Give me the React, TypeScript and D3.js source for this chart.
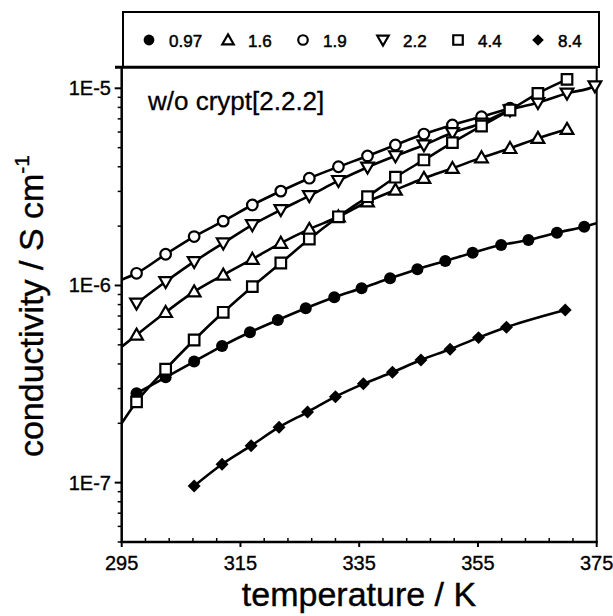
import * as d3 from "d3";

// temperatures (K)
const tempsLow = [297.5, 302.4, 307.2, 311.9, 316.6, 321.3, 326.0, 330.8, 335.4, 340.2, 344.8, 349.5, 354.1, 358.9, 363.5, 368.3, 372.9];
const tempsMain = [297.5, 302.4, 307.2, 312.1, 317.0, 321.8, 326.6, 331.5, 336.4, 341.1, 345.9, 350.7, 355.6, 360.4, 365.1, 370.0, 374.7];
const tempsDiamond = [307.2, 311.9, 316.8, 321.5, 326.3, 331.0, 335.7, 340.6, 345.4, 350.3, 355.1, 359.8, 369.7];

// conductivities (S/cm)
const cond097 = [2.84e-7, 3.42e-7, 4.11e-7, 4.93e-7, 5.79e-7, 6.68e-7, 7.66e-7, 8.71e-7, 9.68e-7, 1.088e-6, 1.21e-6, 1.331e-6, 1.467e-6, 1.605e-6, 1.7e-6, 1.852e-6, 1.987e-6];
const cond16 = [5.61e-7, 7.31e-7, 9.3e-7, 1.13e-6, 1.36e-6, 1.64e-6, 1.93e-6, 2.23e-6, 2.66e-6, 3.05e-6, 3.5e-6, 3.93e-6, 4.45e-6, 4.96e-6, 5.58e-6, 6.2e-6];
const cond19 = [1.153e-6, 1.44e-6, 1.77e-6, 2.12e-6, 2.56e-6, 3.01e-6, 3.5e-6, 4.0e-6, 4.54e-6, 5.16e-6, 5.86e-6, 6.52e-6, 7.18e-6, 7.92e-6];
const cond22 = [8.12e-7, 1.045e-6, 1.32e-6, 1.64e-6, 2.03e-6, 2.42e-6, 2.85e-6, 3.4e-6, 3.98e-6, 4.54e-6, 5.16e-6, 5.95e-6, 6.65e-6, 7.76e-6, 8.45e-6, 9.43e-6, 1.027e-5];
const cond44 = [2.57e-7, 3.76e-7, 5.29e-7, 7.31e-7, 9.86e-7, 1.3e-6, 1.72e-6, 2.23e-6, 2.82e-6, 3.54e-6, 4.33e-6, 5.3e-6, 6.44e-6, 7.76e-6, 9.43e-6, 1.11e-5];
const cond84 = [9.62e-8, 1.24e-7, 1.54e-7, 1.91e-7, 2.28e-7, 2.73e-7, 3.17e-7, 3.63e-7, 4.19e-7, 4.75e-7, 5.44e-7, 6.14e-7, 7.51e-7];

// where the fitted curves run out to the frame
const fitStart = { "1.6": 4.89e-7, "1.9": 1.07e-6, "4.4": 2.0e-7 };
const fitEnd = { "0.97": 2.07e-6, "2.2": 1.04e-5 };

const legendLabels = ["0.97", "1.6", "1.9", "2.2", "4.4", "8.4"];
const xTickLabels = ["295", "315", "335", "355", "375"];
const yTickLabels = ["1E-7", "1E-6", "1E-5"];

const series = [
  { label: "0.97", kind: "dot", temps: tempsLow, vals: cond097 },
  { label: "1.6", kind: "tri", temps: tempsMain.slice(0, 16), vals: cond16 },
  { label: "1.9", kind: "circle", temps: tempsMain.slice(0, 14), vals: cond19 },
  { label: "2.2", kind: "tridown", temps: tempsMain, vals: cond22 },
  { label: "4.4", kind: "square", temps: tempsMain.slice(0, 16), vals: cond44 },
  { label: "8.4", kind: "diamond", temps: tempsDiamond, vals: cond84 },
];

const font = "Arial, 'Liberation Sans', Helvetica, sans-serif";

const Marker = ({ kind, cx, cy, s = 1 }) => {
  const sym = (type, size) => d3.symbol().type(type).size(size * s * s)();
  if (kind === "dot")
    return <circle cx={cx} cy={cy} r={6 * s} fill="#000" />;
  if (kind === "circle")
    return <circle cx={cx} cy={cy} r={5.3 * s} fill="#fff" stroke="#000" strokeWidth={2.2} />;
  if (kind === "square")
    return <path transform={`translate(${cx},${cy})`} d={sym(d3.symbolSquare, 112)} fill="#fff" stroke="#000" strokeWidth={2.2} />;
  if (kind === "tri")
    return <path transform={`translate(${cx},${cy + 1})`} d={sym(d3.symbolTriangle, 70)} fill="#fff" stroke="#000" strokeWidth={2.2} />;
  if (kind === "tridown")
    return <path transform={`translate(${cx},${cy - 1}) rotate(180)`} d={sym(d3.symbolTriangle, 70)} fill="#fff" stroke="#000" strokeWidth={2.2} />;
  return <path transform={`translate(${cx},${cy}) rotate(45)`} d={sym(d3.symbolSquare, 84)} fill="#000" />;
};

export default function App() {
  const x = d3.scaleLinear().domain([295, 375]).range([121.7, 596.7]);
  const y = d3.scaleLog().domain([5e-8, 1.278e-5]).range([542, 67.3]);
  const [x0, x1] = x.range();
  const [yb, yt] = y.range();

  const line = d3
    .line()
    .x((d) => x(d[0]))
    .y((d) => y(d[1]))
    .curve(d3.curveMonotoneX);

  const xMinor = d3.range(299, 375, 4).filter((t) => (t - 295) % 20 !== 0);
  const yMajor = [1e-7, 1e-6, 1e-5];
  const yMinor = y.ticks().filter((v) => !yMajor.some((m) => Math.abs(v / m - 1) < 1e-6));

  const legendX = [149, 228, 303, 383, 458, 538];

  return (
    <svg width={613} height={616} style={{ position: "absolute", left: 0, top: 0, background: "#fff" }} fontFamily={font}>
      <defs>
        <clipPath id="plot">
          <rect x={x0} y={yt} width={x1 - x0} height={yb - yt} />
        </clipPath>
      </defs>

      {/* legend box */}
      <rect x={123} y={12} width={476} height={55} fill="none" stroke="#000" strokeWidth={2} />
      {legendLabels.map((lab, i) => (
        <g key={lab}>
          <Marker kind={series[i].kind} cx={legendX[i]} cy={40} s={0.9} />
          <text x={legendX[i] + 20} y={46.5} fontSize={17} stroke="#000" strokeWidth={0.5}>
            {lab}
          </text>
        </g>
      ))}

      {/* frame */}
      <line x1={115} x2={x1} y1={yt} y2={yt} stroke="#000" strokeWidth={3} />
      <line x1={x0} x2={x0} y1={yt} y2={yb + 1} stroke="#000" strokeWidth={2.5} />
      <line x1={x0 - 1} x2={x1 + 1} y1={yb} y2={yb} stroke="#000" strokeWidth={2.5} />
      <line x1={x1} x2={x1} y1={yt} y2={yb} stroke="#000" strokeWidth={2} />

      {/* x ticks */}
      {xTickLabels.map((lab) => (
        <g key={lab}>
          <line x1={x(+lab)} x2={x(+lab)} y1={yb} y2={yb + 5} stroke="#000" strokeWidth={2} />
          <text x={x(+lab)} y={570} fontSize={20} textAnchor="middle" stroke="#000" strokeWidth={0.35}>
            {lab}
          </text>
        </g>
      ))}
      {xMinor.map((t) => (
        <line key={t} x1={x(t)} x2={x(t)} y1={yb} y2={yb - 4} stroke="#000" strokeWidth={1.5} />
      ))}

      {/* y ticks */}
      {yTickLabels.map((lab, i) => (
        <g key={lab}>
          <line x1={x0 - 7} x2={x0} y1={y(yMajor[i])} y2={y(yMajor[i])} stroke="#000" strokeWidth={2} />
          <text x={111} y={y(yMajor[i]) + 7} fontSize={20} textAnchor="end" stroke="#000" strokeWidth={0.35}>
            {lab}
          </text>
        </g>
      ))}
      {yMinor.map((v) => (
        <line key={v} x1={x0 - 4} x2={x0} y1={y(v)} y2={y(v)} stroke="#000" strokeWidth={1.5} />
      ))}

      {/* axis titles */}
      <text x={359} y={606} fontSize={34} textAnchor="middle" stroke="#000" strokeWidth={0.4}>
        temperature / K
      </text>
      <text transform="translate(43,306) rotate(-90)" fontSize={34} textAnchor="middle" stroke="#000" strokeWidth={0.4}>
        conductivity / S cm
        <tspan fontSize={21} dy={-14}>-1</tspan>
      </text>

      <text x={148} y={110} fontSize={26} stroke="#000" strokeWidth={0.3}>
        w/o crypt[2.2.2]
      </text>

      {/* curves and markers */}
      {series.map((s) => {
        const pts = s.temps.map((t, i) => [t, s.vals[i]]);
        const path = [...(fitStart[s.label] ? [[295, fitStart[s.label]]] : []), ...pts, ...(fitEnd[s.label] ? [[375, fitEnd[s.label]]] : [])];
        return (
          <g key={s.label}>
            <path d={line(path)} fill="none" stroke="#000" strokeWidth={2.6} clipPath="url(#plot)" />
            {pts.map((p, i) => (
              <Marker key={i} kind={s.kind} cx={x(p[0])} cy={y(p[1])} />
            ))}
          </g>
        );
      })}
    </svg>
  );
}
